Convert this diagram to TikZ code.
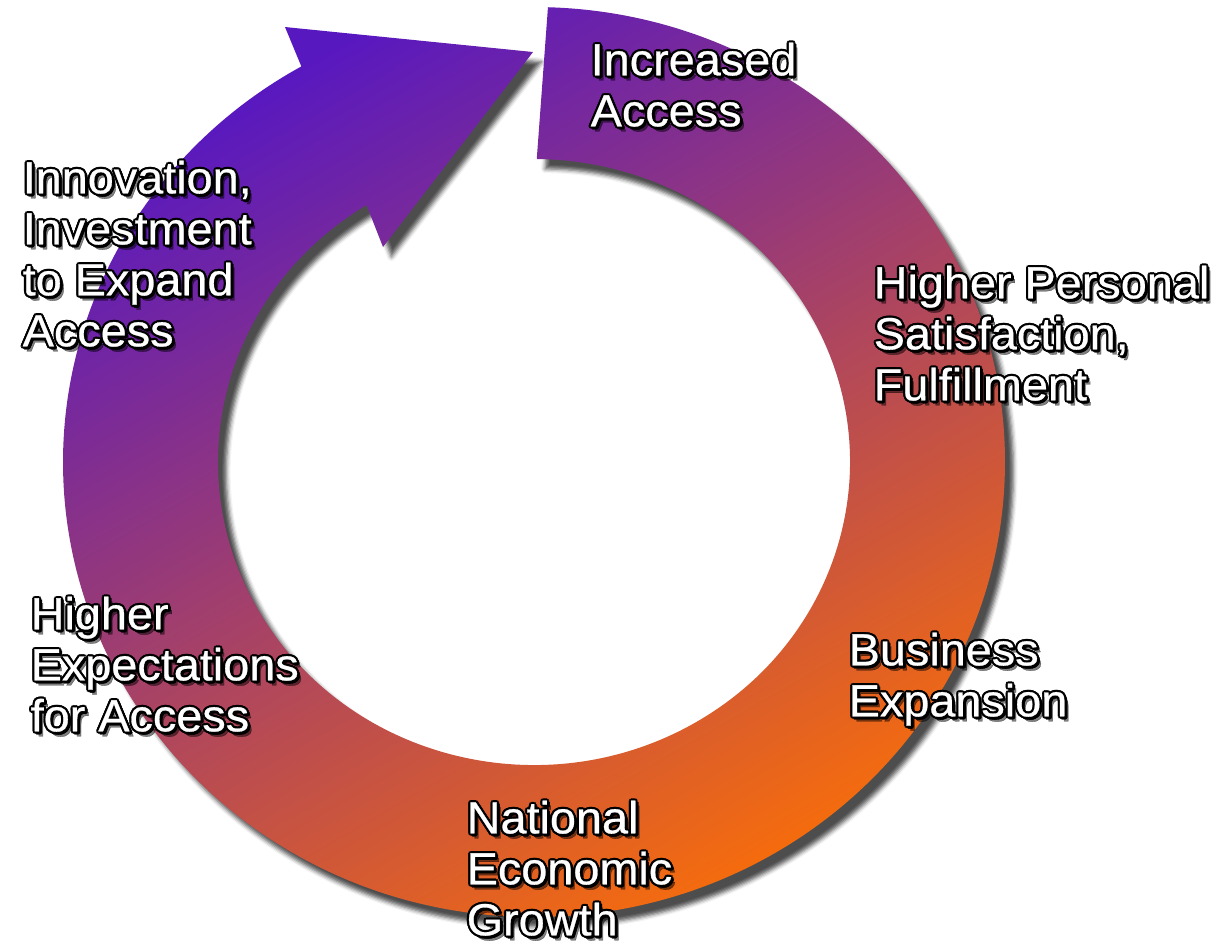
\documentclass[tikz,border=0pt]{standalone}
\usepackage{fontspec}
\setmainfont{Liberation Sans}[FakeStretch=1.04, FakeBold=0.6]
\usetikzlibrary{calc,shadows.blur}

\definecolor{ringviolet}{RGB}{88,24,192}
\definecolor{ringmagenta}{RGB}{172,58,118}
\definecolor{ringorange}{RGB}{246,108,12}

% label with dark edge and drop shadow: name, top left corner, text
\newcommand{\ringlabel}[3]{%
  \node[lbl shadow] at ([shift={(4,5)}]#2) {#3};
  \foreach \dx/\dy in {-2.2/0,2.2/0,0/-2.2,0/2.2,-1.6/-1.6,1.6/1.6,-1.6/1.6,1.6/-1.6,2.5/2.5,3/1.5,1.5/3}
    \node[lbl edge] at ([shift={(\dx,\dy)}]#2) {#3};
  \node[lbl text] (#1) at (#2) {#3};
}

\begin{document}
\begin{tikzpicture}[x=0.01cm, y=-0.01cm,
    lbl/.style={anchor=north west, inner sep=0pt, align=left,
      font=\fontsize{12.8}{14.5}\selectfont},
    lbl text/.style={lbl, text=white},
    lbl edge/.style={lbl, text=black},
    lbl shadow/.style={lbl, text=black, opacity=0.5}]
	\useasboundingbox (0,0) rectangle (1218,947);
	\coordinate (centre) at (534,462);

	% the ring, ending in the arrow head
	\shade[top color=ringviolet, middle color=ringmagenta, bottom color=ringorange, shading angle=30,
	  blur shadow={shadow xshift=2.4pt, shadow yshift=-2.8pt, shadow blur radius=1.2pt, shadow opacity=70}]
		($(centre)+(-88.3:471 and 455)$) arc[start angle=-88.3, end angle=240.4, x radius=471, y radius=455]
		-- (285,27) -- (533,52) -- (383,247)
		-- ($(centre)+(238:316 and 303)$) arc[start angle=238, end angle=-89.5, x radius=316, y radius=303]
		-- cycle;

	\ringlabel{access}{590,42}{Increased\\Access}
	\ringlabel{satisfaction}{873,265}{Higher Personal\\Satisfaction,\\Fulfillment}
	\ringlabel{business}{848,632}{Business\\Expansion}
	\ringlabel{growth}{466,800}{National\\Economic\\Growth}
	\ringlabel{expectations}{30,596}{Higher\\Expectations\\for Access}
	\ringlabel{innovation}{22,160}{Innovation,\\Investment\\to Expand\\Access}
\end{tikzpicture}
\end{document}
